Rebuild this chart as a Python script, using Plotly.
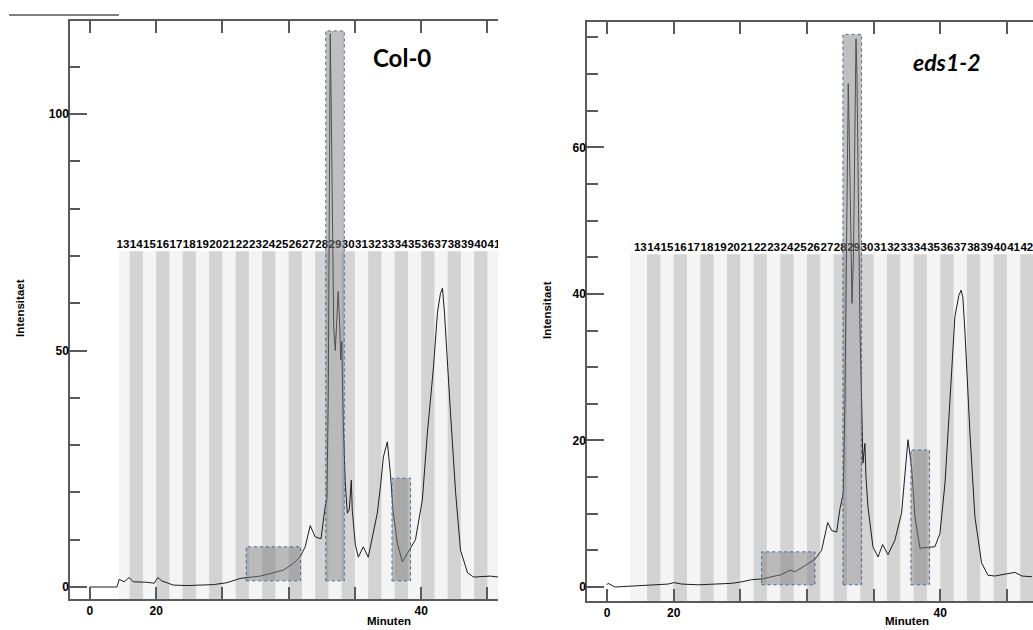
import plotly.graph_objects as go

# ---------------------------------------------------------------------------
# Chromatograms (retention time in min, intensity)
# ---------------------------------------------------------------------------
col0_time = [0.0, 2.04, 2.21, 2.59, 2.97, 3.27, 4.29, 4.86, 5.12, 5.42, 6.3, 7.31,
             8.31, 9.32, 10.33, 11.34, 11.87, 12.85, 13.85, 14.61, 15.37, 15.87,
             16.25, 16.63, 17.0, 17.44, 17.76, 17.89, 17.99, 18.06, 18.14, 18.22,
             18.29, 18.4, 18.52, 18.63, 18.74, 18.86, 18.93, 19.01, 19.12, 19.27,
             19.43, 19.58, 19.73, 19.8, 20.03, 20.26, 20.63, 21.01, 21.16, 21.39,
             21.69, 21.92, 22.15, 22.45, 22.68, 22.9, 23.2, 23.58, 24.19, 24.57,
             25.09, 25.47, 25.93, 26.23, 26.45, 26.61, 26.76, 26.98, 27.21, 27.6,
             27.97, 28.5, 28.95, 30.23, 30.84]
col0_intensity = [0.0, 0.0, 1.6, 1.1, 2.0, 1.1, 1.0, 0.8, 2.0, 1.3, 0.4, 0.3,
                  0.4, 0.5, 0.9, 1.8, 2.0, 2.3, 3.0, 3.6, 5.0, 6.4,
                  8.5, 13.0, 10.6, 10.2, 17.0, 18.7, 40.0, 90.0, 117.0, 100.0,
                  75.0, 55.0, 50.0, 56.0, 62.5, 55.0, 48.0, 52.0, 35.0, 22.0,
                  15.6, 16.5, 22.6, 16.3, 9.0, 6.3, 8.5, 6.3, 8.5, 11.4,
                  15.6, 21.0, 27.5, 30.7, 24.0, 15.6, 9.3, 5.3, 8.2, 10.0,
                  18.4, 32.5, 46.5, 58.0, 62.0, 63.2, 58.0, 47.0, 37.0, 20.0,
                  7.8, 3.0, 2.1, 2.3, 2.1]

eds_time = [0.0, 0.08, 0.6, 1.85, 3.1, 4.58, 5.03, 5.6, 6.85, 8.1, 9.35, 10.1,
            10.85, 11.63, 12.6, 13.1, 13.73, 14.1, 14.85, 15.6, 16.1, 16.56,
            16.86, 17.23, 17.48, 17.73, 17.85, 18.0, 18.1, 18.19, 18.3, 18.38,
            18.49, 18.6, 18.68, 18.75, 18.87, 18.98, 19.1, 19.2, 19.35, 19.43,
            19.58, 19.95, 20.33, 20.68, 21.08, 21.6, 22.1, 22.36, 22.58, 22.85,
            23.1, 23.48, 24.6, 24.98, 25.36, 25.73, 26.1, 26.4, 26.56, 26.7,
            26.86, 27.23, 27.6, 28.1, 28.58, 29.1, 29.86, 30.6, 31.13, 31.88]
eds_intensity = [0.3, 0.5, 0.0, 0.1, 0.2, 0.4, 0.6, 0.4, 0.3, 0.4, 0.5, 0.7,
                 1.0, 1.1, 1.5, 1.7, 2.3, 2.1, 2.9, 3.8, 5.0, 8.8,
                 7.7, 7.5, 10.7, 12.8, 25.0, 55.0, 68.7, 60.0, 45.0, 38.7,
                 45.0, 65.0, 74.8, 70.0, 50.0, 35.0, 25.5, 16.9, 19.6, 15.0,
                 10.9, 5.5, 4.1, 5.8, 4.4, 6.4, 10.1, 15.5, 20.1, 16.4,
                 9.6, 5.3, 5.5, 7.3, 14.2, 25.5, 36.9, 39.8, 40.5, 39.5,
                 34.6, 21.0, 9.6, 3.3, 1.6, 1.5, 1.8, 2.0, 1.5, 1.4]

# Fraction collector: one fraction per minute, fraction 13 starts at 2 min
col0_fractions = list(range(13, 42))
eds_fractions = list(range(13, 43))
FRACTION_FIRST = 13
FRACTION_FIRST_START = 2.0
FRACTION_WIDTH = 1.0

# Start of the collection window and height of the fraction band
col0_band = (2.2, 71.0)
eds_band = (1.73, 45.4)

# Pooled fraction windows: (start min, end min, top intensity)
col0_pools = [(11.8, 15.9, 8.5), (17.8, 19.2, 117.6), (22.8, 24.2, 23.0)]
col0_pool_floor = 1.3
eds_pools = [(11.6, 15.6, 4.8), (17.7, 19.1, 75.4), (22.8, 24.2, 18.7)]
eds_pool_floor = 0.3

# Axis ticks
x_tick_vals = [0, 5, 10, 15, 20, 25, 30]
x_tick_text = ["0", "20", "", "", "", "40", ""]
col0_y_ticks = [0, 50, 100]
eds_y_ticks = [0, 20, 40, 60]

col0_xrange = [-1.5, 30.8]
col0_yrange = [-2.54, 119.7]
eds_xrange = [-1.5, 31.96]
eds_yrange = [-1.91, 77.1]

W, H = 1033, 630

LIGHT = "#f4f4f4"
DARK = "#d3d3d3"
AXIS = "#5a5a5a"
TICK_FONT = dict(family="Liberation Sans, Arial, sans-serif", size=12,
                 color="black", weight="bold")

fig = go.Figure()


def frac_start(k):
    return FRACTION_FIRST_START + (k - FRACTION_FIRST) * FRACTION_WIDTH


def add_panel(xa, ya, times, values, fractions, band, pools, floor, yrange):
    xref, yref = xa, ya
    band_start, band_top = band
    # fraction band background
    fig.add_shape(type="rect", xref=xref, yref=yref, x0=band_start, x1=60,
                  y0=yrange[0] - 5, y1=band_top, fillcolor=LIGHT,
                  line=dict(width=0), layer="below")
    for k in fractions:
        if k % 2 == 0:
            fig.add_shape(type="rect", xref=xref, yref=yref,
                          x0=frac_start(k), x1=frac_start(k) + FRACTION_WIDTH,
                          y0=yrange[0] - 5, y1=band_top, fillcolor=DARK,
                          line=dict(width=0), layer="below")
    # fraction numbers
    fig.add_trace(go.Scatter(
        x=[frac_start(k) + FRACTION_WIDTH / 2 for k in fractions],
        y=[band_top] * len(fractions),
        mode="text", text=[str(k) for k in fractions],
        textposition="top center",
        textfont=dict(family="Liberation Sans, Arial, sans-serif", size=11.5,
                      color="black", weight="bold"),
        cliponaxis=True, hoverinfo="skip", showlegend=False,
        xaxis=xa, yaxis=ya))
    # chromatogram
    fig.add_trace(go.Scatter(
        x=times, y=values, mode="lines",
        line=dict(color="#1e1e1e", width=1),
        showlegend=False, xaxis=xa, yaxis=ya))
    # pooled windows
    for x0, x1, top in pools:
        fig.add_shape(type="rect", xref=xref, yref=yref, x0=x0, x1=x1,
                      y0=floor, y1=top, fillcolor="rgba(128,128,128,0.5)",
                      line=dict(color="#4a6a9c", width=1, dash="dot"),
                      layer="above")


add_panel("x", "y", col0_time, col0_intensity, col0_fractions, col0_band,
          col0_pools, col0_pool_floor, col0_yrange)
add_panel("x2", "y2", eds_time, eds_intensity, eds_fractions, eds_band,
          eds_pools, eds_pool_floor, eds_yrange)

xaxis_common = dict(
    tickmode="array", tickvals=x_tick_vals, ticktext=x_tick_text,
    ticks="inside", ticklen=12, tickwidth=1.5, tickcolor=AXIS,
    showline=True, linecolor=AXIS, linewidth=1.5, mirror="ticks",
    showgrid=False, zeroline=False, tickfont=TICK_FONT, fixedrange=True,
)
yaxis_common = dict(
    tickmode="array", ticks="inside", ticklen=17, tickwidth=1.5, tickcolor=AXIS,
    showline=True, linecolor=AXIS, linewidth=1.5, mirror=False,
    showgrid=False, zeroline=False, tickfont=TICK_FONT, fixedrange=True,
    ticklabelstandoff=-3,
)

fig.update_layout(
    width=W, height=H,
    margin=dict(l=0, r=0, t=0, b=0),
    paper_bgcolor="white", plot_bgcolor="white",
    showlegend=False,
    xaxis=dict(xaxis_common, domain=[70 / W, 498 / W], range=col0_xrange,
               anchor="y"),
    yaxis=dict(yaxis_common, domain=[1 - 599 / H, 1 - 21 / H], range=col0_yrange,
               tickvals=col0_y_ticks, anchor="x",
               minor=dict(tick0=0, dtick=10, ticks="inside", ticklen=10,
                          tickwidth=1.5, tickcolor=AXIS)),
    xaxis2=dict(xaxis_common, domain=[587 / W, 1.0], range=eds_xrange,
                anchor="y2"),
    yaxis2=dict(yaxis_common, domain=[1 - 601 / H, 1 - 22 / H], range=eds_yrange,
                tickvals=eds_y_ticks, anchor="x2",
                minor=dict(tick0=0, dtick=5, ticks="inside", ticklen=11,
                           tickwidth=1.5, tickcolor=AXIS)),
)

title_font = dict(family="Liberation Sans, Arial, sans-serif", size=11.5,
                  color="black")
annotations = [
    dict(text="<b>Intensitaet</b>", x=20 / W, y=1 - 308 / H, textangle=-90,
         font=title_font),
    dict(text="<b>Intensitaet</b>", x=547 / W, y=1 - 310 / H, textangle=-90,
         font=title_font),
    dict(text="<b>Minuten</b>", x=389 / W, y=1 - 621 / H, font=title_font),
    dict(text="<b>Minuten</b>", x=907 / W, y=1 - 621 / H, font=title_font),
    dict(text="<b>Col-0</b>", x=402 / W, y=1 - 57 / H,
         font=dict(family="Lato, sans-serif", size=24, color="black")),
    dict(text="<b><i>eds1-2</i></b>", x=947 / W, y=1 - 62 / H,
         font=dict(family="Lato, sans-serif", size=23, color="black")),
]
for a in annotations:
    a.update(xref="paper", yref="paper", showarrow=False,
             xanchor="center", yanchor="middle")
fig.update_layout(annotations=annotations)

# short rule above the left panel
fig.add_shape(type="line", xref="paper", yref="paper",
              x0=9 / W, x1=119 / W, y0=1 - 15 / H, y1=1 - 15 / H,
              line=dict(color="black", width=1))

fig.write_html("out.html")
